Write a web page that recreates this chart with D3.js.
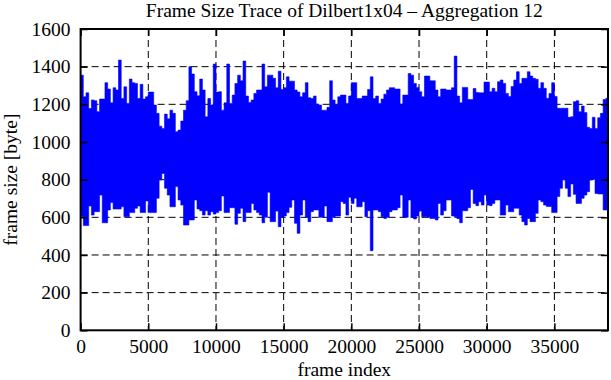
<!DOCTYPE html>
<html><head><meta charset="utf-8">
<script src="https://cdn.jsdelivr.net/npm/d3@7"></script>
<style>
body{margin:0;background:#fff}
svg{display:block}
text{font-family:"Liberation Serif","Times New Roman",serif;fill:#000}
</style>
</head><body>
<svg id="c" width="611" height="380"></svg>
<script>
const title = "Frame Size Trace of Dilbert1x04 \u2013 Aggregation 12";
const xLabel = "frame index";
const yLabel = "frame size [byte]";
const xTicks = [0, 5000, 10000, 15000, 20000, 25000, 30000, 35000];
const yTicks = [0, 200, 400, 600, 800, 1000, 1200, 1400, 1600];
const xMax = 38960;
const sampleStep = 200; // frame index spacing of the envelope samples

// upper envelope of the trace (max frame size per sample window)
const upper = [
1355,1240,1261,1178,1223,1219,1161,1228,1228,1315,1281,
1208,1288,1276,1435,1231,1293,1205,1334,1315,1311,
1231,1306,1228,1240,1265,1265,1196,1152,1084,1072,
1148,1123,1169,1152,1054,1063,1111,1169,1219,1400,
1361,1267,1245,1334,1276,1134,1231,1196,1414,1265,
1267,1169,1208,1414,1205,1249,1311,1355,1325,1430,
1244,1210,1223,1258,1276,1276,1414,1293,1355,1355,
1338,1288,1376,1279,1288,1346,1323,1323,1276,1265,
1240,1261,1315,1235,1231,1244,1201,1196,1169,1169,
1184,1325,1223,1196,1240,1249,1249,1205,1244,1315,
1315,1231,1231,1244,1244,1279,1346,1231,1244,1205,
1228,1254,1276,1288,1288,1281,1281,1201,1249,1249,
1364,1355,1311,1290,1267,1240,1350,1350,1325,1325,
1276,1240,1281,1281,1276,1276,1288,1456,1244,1208,
1290,1290,1226,1226,1284,1263,1261,1261,1318,1318,
1267,1285,1267,1320,1329,1311,1258,1241,1294,1329,
1373,1311,1338,1338,1373,1350,1338,1333,1285,1315,
1285,1232,1258,1315,1241,1179,1179,1179,1179,1131,
1134,1214,1219,1161,1191,1156,1078,1072,1131,1072,
1129,1152,1226,1232
];
// lower envelope of the trace (min frame size per sample window)
const lower = [
603,556,556,660,612,630,630,718,571,571,639,
678,644,644,644,656,603,603,625,625,648,
660,625,625,687,625,625,625,701,798,833,
754,718,656,656,763,692,665,559,559,586,
586,692,644,635,612,635,612,630,617,625,
635,713,625,625,651,651,563,621,648,577,
625,625,674,639,625,612,571,600,733,577,
577,633,550,600,607,625,653,692,568,515,
612,692,600,577,630,639,639,600,600,660,
577,577,600,607,607,683,674,612,706,674,
701,656,656,683,603,635,423,639,639,630,
603,594,600,630,639,639,651,718,600,600,
692,600,591,607,633,603,603,600,594,594,
586,674,612,635,692,692,607,603,593,571,
635,635,651,748,674,662,683,665,718,665,
662,674,692,692,612,612,665,630,630,648,
648,612,577,559,594,577,577,621,692,683,
665,657,657,625,625,710,754,798,754,710,
777,722,674,674,701,718,736,798,802,727,
724,724,639,639
];

const svg = d3.select("#c");
const m = {l: 80.6, r: 608, t: 29, b: 330.3};
const x = d3.scaleLinear().domain([0, xMax]).range([m.l, m.r]);
const y = d3.scaleLinear().domain([0, 1600]).range([m.b, m.t]);
const serif = "'Liberation Serif', 'Times New Roman', serif";

// grid
const grid = svg.append("g").attr("stroke", "#000").attr("stroke-width", 1).attr("stroke-dasharray", "7,4").attr("fill", "none");
xTicks.filter(d => d > 0).forEach(d => {
  grid.append("line").attr("x1", x(d)).attr("x2", x(d)).attr("y1", m.t).attr("y2", m.b);
});
yTicks.filter(d => d > 0 && d < 1600).forEach(d => {
  grid.append("line").attr("x1", m.l).attr("x2", m.r).attr("y1", y(d)).attr("y2", y(d));
});

// trace
const pts = upper.map((u, i) => ({f: i * sampleStep, u: u, l: lower[i]}));
pts.push({f: xMax, u: upper[upper.length - 1], l: lower[lower.length - 1]});
const area = d3.area().curve(d3.curveStepAfter)
  .x(d => x(d.f)).y0(d => y(d.l)).y1(d => y(d.u));
svg.append("path").datum(pts).attr("d", area)
  .attr("fill", "#0000ff").attr("stroke", "#0000ff").attr("stroke-width", 0.6);

// axes
const fs = "19.5px";
const gx = svg.append("g").attr("transform", `translate(0,${m.b})`)
  .call(d3.axisBottom(x).tickValues(xTicks).tickSizeInner(-7).tickSizeOuter(0).tickPadding(9).tickFormat(d3.format("d")));
const gxt = svg.append("g").attr("transform", `translate(0,${m.t})`)
  .call(d3.axisTop(x).tickValues(xTicks).tickSizeInner(-7).tickSizeOuter(0).tickFormat(""));
const gy = svg.append("g").attr("transform", `translate(${m.l},0)`)
  .call(d3.axisLeft(y).tickValues(yTicks).tickSizeInner(-7).tickSizeOuter(0).tickPadding(10).tickFormat(d3.format("d")));
const gyr = svg.append("g").attr("transform", `translate(${m.r},0)`)
  .call(d3.axisRight(y).tickValues(yTicks).tickSizeInner(-7).tickSizeOuter(0).tickFormat(""));
[gx, gxt, gy, gyr].forEach(g => {
  g.attr("font-family", serif);
  g.select(".domain").remove();
  g.selectAll(".tick line").attr("stroke", "#000").attr("stroke-width", 1.5);
  g.selectAll("text").attr("font-size", fs).style("font-family", serif).attr("fill", "#000");
});

// border
svg.append("rect").attr("x", m.l).attr("y", m.t).attr("width", m.r - m.l).attr("height", m.b - m.t)
  .attr("fill", "none").attr("stroke", "#000").attr("stroke-width", 2);

// labels
svg.append("text").attr("x", (m.l + m.r) / 2).attr("y", 17).attr("text-anchor", "middle")
  .attr("font-size", "19.5px").style("font-family", serif).text(title);
svg.append("text").attr("x", (m.l + m.r) / 2).attr("y", 376).attr("text-anchor", "middle")
  .attr("font-size", fs).style("font-family", serif).text(xLabel);
svg.append("text").attr("transform", `translate(17,${(m.t + m.b) / 2}) rotate(-90)`).attr("text-anchor", "middle")
  .attr("font-size", fs).style("font-family", serif).text(yLabel);
</script>
</body></html>
